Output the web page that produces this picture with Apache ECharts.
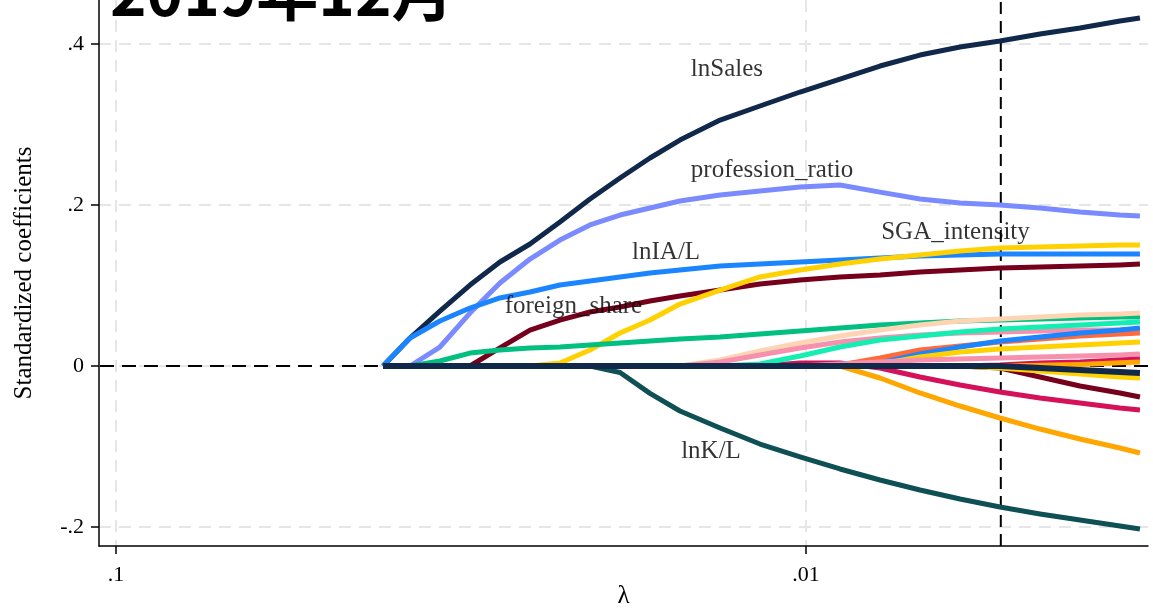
<!DOCTYPE html>
<html>
<head>
<meta charset="utf-8">
<script src="https://cdn.jsdelivr.net/npm/echarts@6/dist/echarts.min.js"></script>
<style>
html,body{margin:0;padding:0;background:#fff;}
#chart{width:1153px;height:611px;}
</style>
</head>
<body>
<div id="chart"></div>
<script>
// lambda grid (x axis, log scale, reversed)
const lambdas = [0.04102, 0.03749, 0.03393, 0.03069, 0.02777, 0.02512, 0.02273, 0.02056, 0.01860, 0.01683, 0.01523, 0.01332, 0.01166, 0.01020, 0.008928, 0.007812, 0.006836, 0.005981, 0.005234, 0.004580, 0.004008, 0.003508, 0.003281];

// standardized coefficients for each variable along the lambda grid
const lnSales = [0, 0.0348, 0.0683, 0.1006, 0.1292, 0.1516, 0.1789, 0.2074, 0.2335, 0.2584, 0.2807, 0.3056, 0.3230, 0.3404, 0.3565, 0.3727, 0.3863, 0.3963, 0.4037, 0.4124, 0.4199, 0.4286, 0.4323];
const professionRatio = [0, 0, 0.0236, 0.0658, 0.1031, 0.1329, 0.1565, 0.1752, 0.1876, 0.1963, 0.2050, 0.2124, 0.2174, 0.2224, 0.2248, 0.2160, 0.2074, 0.2025, 0.2000, 0.1963, 0.1913, 0.1876, 0.1863];
const lnIAL = [0, 0.0348, 0.0559, 0.0720, 0.0845, 0.0919, 0.1006, 0.1056, 0.1106, 0.1155, 0.1193, 0.1242, 0.1267, 0.1292, 0.1317, 0.1342, 0.1366, 0.1379, 0.1391, 0.1391, 0.1391, 0.1391, 0.1391];
const foreignShare = [0, 0, 0, 0, 0.0224, 0.0447, 0.0571, 0.0671, 0.0733, 0.0807, 0.0870, 0.0944, 0.1019, 0.1068, 0.1106, 0.1130, 0.1168, 0.1193, 0.1217, 0.1230, 0.1242, 0.1255, 0.1267];
const sgaIntensity = [0, 0, 0, 0, 0, 0, 0.0037, 0.0199, 0.0410, 0.0571, 0.0770, 0.0944, 0.1106, 0.1193, 0.1267, 0.1329, 0.1379, 0.1429, 0.1466, 0.1478, 0.1491, 0.1503, 0.1503];
const greenVar = [0, 0, 0.0062, 0.0161, 0.0199, 0.0224, 0.0236, 0.0261, 0.0286, 0.0311, 0.0335, 0.0360, 0.0398, 0.0435, 0.0472, 0.0509, 0.0534, 0.0559, 0.0571, 0.0584, 0.0596, 0.0609, 0.0609];
const lnKL = [0, 0, 0, 0, 0, 0, 0, 0, -0.0080, -0.0340, -0.0559, -0.0770, -0.0969, -0.1130, -0.1279, -0.1416, -0.1540, -0.1652, -0.1752, -0.1838, -0.1913, -0.1988, -0.2025];
const orangeVar = [0, 0, 0, 0, 0, 0, 0, 0, 0, 0, 0, 0, 0, 0, 0, -0.0149, -0.0335, -0.0497, -0.0646, -0.0783, -0.0907, -0.1019, -0.1081];
const crimsonVar = [0, 0, 0, 0, 0, 0, 0, 0, 0, 0, 0, 0, 0, 0.0037, 0.0037, -0.0025, -0.0137, -0.0236, -0.0323, -0.0398, -0.0460, -0.0522, -0.0547];
const darkRed2 = [0, 0, 0, 0, 0, 0, 0, 0, 0, 0, 0, 0, 0, 0, 0, 0, 0, 0, -0.0025, -0.0137, -0.0248, -0.0335, -0.0385];
const peachVar = [0, 0, 0, 0, 0, 0, 0, 0, 0, 0, 0, 0.0075, 0.0186, 0.0286, 0.0373, 0.0447, 0.0509, 0.0559, 0.0584, 0.0609, 0.0634, 0.0646, 0.0658];
const pinkVar = [0, 0, 0, 0, 0, 0, 0, 0, 0, 0, 0, 0.0050, 0.0137, 0.0224, 0.0298, 0.0348, 0.0385, 0.0410, 0.0422, 0.0435, 0.0447, 0.0447, 0.0447];
const mintVar = [0, 0, 0, 0, 0, 0, 0, 0, 0, 0, 0, 0, 0.0025, 0.0124, 0.0236, 0.0323, 0.0373, 0.0422, 0.0460, 0.0484, 0.0509, 0.0534, 0.0547];
const orangeRed = [0, 0, 0, 0, 0, 0, 0, 0, 0, 0, 0, 0, 0, 0, 0.0012, 0.0099, 0.0199, 0.0248, 0.0298, 0.0335, 0.0373, 0.0398, 0.0410];
const blue2 = [0, 0, 0, 0, 0, 0, 0, 0, 0, 0, 0, 0, 0, 0, 0, 0.0037, 0.0149, 0.0236, 0.0311, 0.0360, 0.0410, 0.0447, 0.0472];
const gold2 = [0, 0, 0, 0, 0, 0, 0, 0, 0, 0, 0, 0, 0, 0, 0, 0.0025, 0.0112, 0.0174, 0.0211, 0.0236, 0.0261, 0.0286, 0.0298];
const pink2 = [0, 0, 0, 0, 0, 0, 0, 0, 0, 0, 0, 0, 0, 0, 0.0025, 0.0050, 0.0075, 0.0087, 0.0099, 0.0112, 0.0124, 0.0137, 0.0149];
const crimson2 = [0, 0, 0, 0, 0, 0, 0, 0, 0, 0, 0, 0, 0, 0, 0, 0, 0, 0, 0.0012, 0.0037, 0.0050, 0.0075, 0.0087];
const orange2 = [0, 0, 0, 0, 0, 0, 0, 0, 0, 0, 0, 0, 0, 0, 0, 0, 0, 0, 0, 0.0010, 0.0020, 0.0040, 0.0050];
const gold3 = [0, 0, 0, 0, 0, 0, 0, 0, 0, 0, 0, 0, 0, 0, 0, 0, 0, 0, -0.0025, -0.0062, -0.0099, -0.0137, -0.0149];
const navy2 = [0, 0, 0, 0, 0, 0, 0, 0, 0, 0, 0, 0, 0, 0, 0, 0, 0, 0, 0, -0.0025, -0.0050, -0.0075, -0.0087];

// axis ticks
const xTicks = [0.1, 0.01];
const yTicks = [-0.2, 0, 0.2, 0.4];
const xRange = [0.003194, 0.10584];
const yRange = [-0.2236, 0.4547];
const cvLambda = 0.00522;   // chosen lambda (vertical line)

// curve labels: [text, lambda, value]
const labelNames = ['lnSales', 'profession_ratio', 'SGA_intensity', 'lnIA/L', 'foreign_share', 'lnK/L'];
const labelLambda = [0.01302, 0.01120, 0.006072, 0.01595, 0.02173, 0.01373];
const labelValue = [0.369, 0.2435, 0.1665, 0.1416, 0.0745, -0.1056];

const seriesDefs = [
  ['lnSales', lnSales, '#10284a'],
  ['profession_ratio', professionRatio, '#7a8aff'],
  ['lnIA/L', lnIAL, '#1a85ff'],
  ['foreign_share', foreignShare, '#76001c'],
  ['SGA_intensity', sgaIntensity, '#ffd100'],
  ['var_green', greenVar, '#00bf7f'],
  ['lnK/L', lnKL, '#0f5055'],
  ['var_orange', orangeVar, '#ffa600'],
  ['var_crimson', crimsonVar, '#d41159'],
  ['var_darkred', darkRed2, '#76001c'],
  ['var_peach', peachVar, '#fdd5b4'],
  ['var_pink', pinkVar, '#f790ac'],
  ['var_mint', mintVar, '#14eeb2'],
  ['var_orangered', orangeRed, '#ff6a3c'],
  ['var_blue', blue2, '#1a85ff'],
  ['var_gold', gold2, '#ffd100'],
  ['var_pink2', pink2, '#f790ac'],
  ['var_crimson2', crimson2, '#d41159'],
  ['var_orange2', orange2, '#ffa600'],
  ['var_gold3', gold3, '#ffd100'],
  ['var_navy', navy2, '#10284a']
];

const serif = '"Liberation Serif", "Times New Roman", serif';
const fmt = v => {
  const s = String(Number(v.toPrecision(4)));
  return s.replace(/^(-?)0\./, '$1.');
};

const chart = echarts.init(document.getElementById('chart'), null, {renderer: 'canvas'});

const series = [];

// reference lines (under the curves)
series.push({
  type: 'line', name: 'zeroLine', silent: true, animation: false, z: 1,
  showSymbol: false, symbol: 'none',
  data: [[xRange[0], 0], [xRange[1], 0]],
  lineStyle: {color: '#000', width: 2, type: [14, 8]}
});
series.push({
  type: 'line', name: 'cvLine', silent: true, animation: false, z: 1,
  showSymbol: false, symbol: 'none',
  data: [[cvLambda, yRange[0]], [cvLambda, yRange[1]]],
  lineStyle: {color: '#000', width: 2, type: [12, 7]}
});

const lastIdx = seriesDefs.length - 1;
seriesDefs.forEach((d, i) => series.push({
  type: 'line',
  name: d[0],
  data: lambdas.map((l, k) => [l, d[1][k]]),
  showSymbol: false,
  symbol: 'none',
  silent: true,
  z: 10 + i * 0.01,
  lineStyle: {color: d[2], width: i === lastIdx ? 6 : 5, cap: 'butt', join: 'round'},
  itemStyle: {color: d[2]},
  animation: false
}));

// curve name labels (above)
series.push({
  type: 'scatter',
  name: 'labels',
  z: 30,
  silent: true,
  animation: false,
  symbolSize: 1,
  itemStyle: {color: 'rgba(0,0,0,0)'},
  data: labelNames.map((n, i) => ({value: [labelLambda[i], labelValue[i]], name: n})),
  label: {
    show: true,
    position: 'inside',
    formatter: p => p.name,
    color: '#000',
    fontSize: 25,
    fontFamily: serif
  }
});

chart.setOption({
  animation: false,
  backgroundColor: '#fff',
  grid: {left: 99, right: 5, top: 0, bottom: 65, containLabel: false, outerBoundsMode: 'none'},
  graphic: [{
    type: 'text',
    left: 110,
    top: -39,
    z: 100,
    style: {text: '2019年12月', font: 'bold 62px "Noto Sans CJK SC"', fill: '#000'}
  }],
  xAxis: {
    type: 'log',
    logBase: 10,
    min: xRange[0],
    max: xRange[1],
    inverse: true,
    name: 'λ',
    nameLocation: 'middle',
    nameGap: 38,
    nameMoveOverlap: false,
    nameTextStyle: {fontSize: 25, fontFamily: serif, color: '#000'},
    axisLine: {show: true, onZero: false, lineStyle: {color: '#000', width: 1.5}},
    axisTick: {show: true, inside: false, length: 8, customValues: xTicks, lineStyle: {color: '#000', width: 1.5}},
    axisLabel: {show: true, customValues: xTicks, margin: 18, fontSize: 22, fontFamily: serif, color: '#000', formatter: fmt},
    splitLine: {show: true, lineStyle: {color: '#e6e6e6', width: 2, type: [12, 8]}},
    minorTick: {show: false}, minorSplitLine: {show: false}
  },
  yAxis: {
    type: 'value',
    min: yRange[0],
    max: yRange[1],
    name: 'Standardized coefficients',
    nameLocation: 'middle',
    nameGap: 62,
    nameMoveOverlap: false,
    nameTextStyle: {fontSize: 25, fontFamily: serif, color: '#000'},
    axisLine: {show: true, onZero: false, lineStyle: {color: '#000', width: 1.5}},
    axisTick: {show: true, inside: false, length: 8, customValues: yTicks, lineStyle: {color: '#000', width: 1.5}},
    axisLabel: {show: true, customValues: yTicks, margin: 15, fontSize: 22, fontFamily: serif, color: '#000', formatter: fmt},
    splitLine: {show: true, lineStyle: {color: '#e6e6e6', width: 2, type: [12, 8]}}
  },
  series: series
});
</script>
</body>
</html>
